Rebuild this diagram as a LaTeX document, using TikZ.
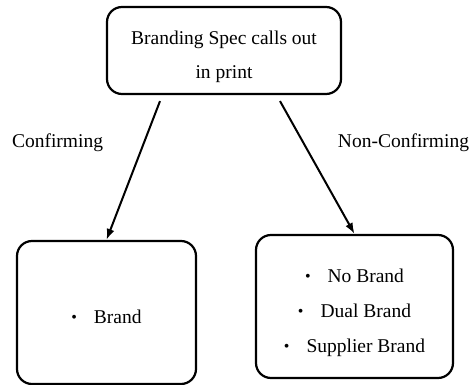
\documentclass[tikz,border=0pt]{standalone}
\usepackage{fontspec}
\setmainfont{Liberation Serif}
\usetikzlibrary{arrows.meta}
\newcommand{\blt}{\raisebox{1pt}{\fontsize{16}{16}\selectfont\textbullet}\hspace{17pt}}
\begin{document}
\begin{tikzpicture}[x=1pt,y=-1pt,
  box/.style={draw,line width=2.2pt,rounded corners=15pt,align=center},
  arr/.style={line width=2pt,-{Latex[length=11pt,width=8pt]}},
  font=\fontsize{19.5}{34}\selectfont]
\useasboundingbox (0,0) rectangle (471,385);

\node[box,minimum width=234pt,minimum height=87pt,text height=61pt] (top) at (224,50.5) {Branding Spec calls out\\in print};
\node[box,minimum width=179pt,minimum height=143pt,text height=23pt] (brand) at (106.5,312.5) {\blt Brand};
\node[box,minimum width=197pt,minimum height=143pt,text height=97pt,font=\fontsize{19.5}{35}\selectfont] (other) at (354.5,306.5) {\blt No Brand\\ \blt Dual Brand\\ \blt Supplier Brand};

\node (conf) at (57.5,143) {Confirming};
\node (nonconf) at (403.5,143) {Non-Confirming};

\draw[arr] ([xshift=-64pt,yshift=-6pt]top.south) -- (brand.north);
\draw[arr] ([xshift=56pt,yshift=-6pt]top.south) -- (other.north);
\end{tikzpicture}
\end{document}
